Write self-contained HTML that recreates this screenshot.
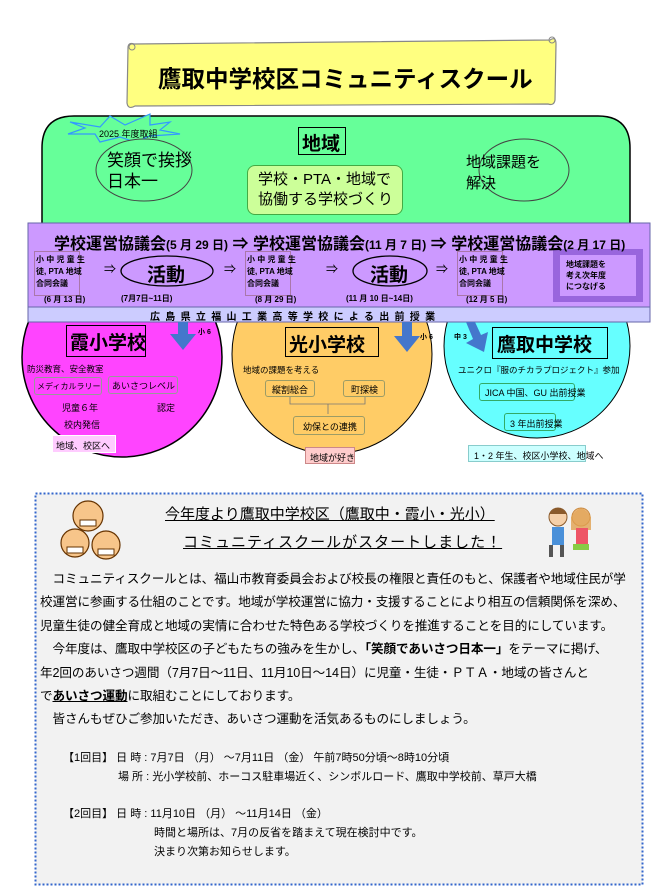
<!DOCTYPE html>
<html><head><meta charset="utf-8"><style>
body{margin:0;width:654px;height:892px;background:#fff;position:relative;overflow:hidden;font-family:"Liberation Sans","Noto Sans CJK JP",sans-serif;color:#000}
.t{position:absolute;white-space:nowrap}
.b{font-weight:bold}
.box{position:absolute;box-sizing:border-box}
</style></head><body>
<svg width="654" height="892" style="position:absolute;left:0;top:0">
 <path d="M128 48 Q128 42 134 44 L550 40 Q556 36 556 44 L555 100 Q554 106 548 104 L135 106 Q128 110 127 103 Z" fill="#ffff80" stroke="#888" stroke-width="1.2"/>
 <circle cx="132" cy="47" r="3" fill="none" stroke="#888"/><circle cx="552" cy="40" r="3" fill="none" stroke="#888"/>
 <path d="M42 225 L42 148 Q42 116 74 116 L598 116 Q630 116 630 148 L630 225 Z" fill="#66ff99" stroke="#000" stroke-width="1.5"/>
 <ellipse cx="122" cy="357" rx="100" ry="100" fill="#ff44ff" stroke="#000" stroke-width="1.5"/>
 <ellipse cx="332" cy="354" rx="100" ry="100" fill="#ffcc66" stroke="#000" stroke-width="1"/>
 <ellipse cx="537" cy="346" rx="93" ry="92" fill="#66ffff" stroke="#000" stroke-width="1"/>
 <polygon points="70,122 100,127 110,116 125,125 150,114 150,125 170,122 160,130 180,134 150,136 135,142 120,137 100,142 95,134 68,134 85,128" fill="#66ff99" stroke="#3399ff" stroke-width="1.2"/>
 <ellipse cx="144" cy="170" rx="48" ry="31" fill="#66ff99" stroke="#444"/>
 <ellipse cx="524" cy="170" rx="45" ry="31" fill="#66ff99" stroke="#444"/>
 <rect x="28" y="223" width="622" height="85" fill="#cc99ff" stroke="#6666aa"/>
 <rect x="28" y="307" width="622" height="15" fill="#ccccff" stroke="#6666aa"/>
 <ellipse cx="167" cy="271" rx="46" ry="15" fill="#cc99ff" stroke="#000" stroke-width="1.3"/>
 <ellipse cx="390" cy="271" rx="37" ry="15" fill="#cc99ff" stroke="#000" stroke-width="1.3"/>
 <rect x="553" y="249" width="90" height="53" fill="#9966dd"/>
 <rect x="560" y="255" width="76" height="41" fill="#cc99ff"/>
 <g fill="#4477cc">
  <path d="M178 322 L188 322 L188 334 L196 334 L183 350 L170 334 L178 334 Z"/>
  <path d="M402 322 L412 322 L412 336 L420 336 L407 352 L394 336 L402 336 Z"/>
  <path d="M466 322 L475 322 L481 335 L488 332 L484 352 L466 343 L473 339 Z"/>
 </g>
 <path d="M290 397 L290 404 L365 404 L365 397 M328 404 L328 414" fill="none" stroke="#777" stroke-width="0.8"/>
 <rect x="35.5" y="493.5" width="607" height="391" fill="#f2f2f2" stroke="#3366cc" stroke-width="2" stroke-dasharray="2,2"/>
 <g stroke="#663300" stroke-width="1.2" fill="#f7c58a">
  <circle cx="88" cy="516" r="15"/><circle cx="75" cy="543" r="14"/><circle cx="106" cy="545" r="14"/>
 </g>
 <g fill="#fff" stroke="#663300"><rect x="80" y="520" width="16" height="6"/><rect x="67" y="547" width="16" height="6"/><rect x="98" y="549" width="16" height="6"/></g>
 <circle cx="558" cy="517" r="9" fill="#f5d0a9" stroke="#8a5a2b"/><path d="M549 514 Q558 502 567 514 Z" fill="#8a5a2b"/>
 <rect x="552" y="527" width="12" height="18" fill="#4a90d9"/><rect x="549" y="545" width="4" height="12" fill="#555"/><rect x="560" y="545" width="4" height="12" fill="#555"/>
 <circle cx="581" cy="517" r="9" fill="#f5d0a9" stroke="#c8873c"/><path d="M571 517 Q581 500 591 517 L591 530 L571 530 Z" fill="#e0a050" opacity=".8"/>
 <rect x="576" y="528" width="12" height="16" fill="#ee5566"/><rect x="573" y="544" width="16" height="6" fill="#88cc44"/>
</svg>

<div class="t b" style="left:158px;top:60px;font-size:23.5px">鷹取中学校区コミュニティスクール</div>

<div class="t" style="left:99px;top:127px;font-size:9px">2025 年度取組</div>
<div class="t" style="left:107px;top:150px;font-size:17px;line-height:21px">笑顔で挨拶<br>日本一</div>
<div class="box" style="left:298px;top:127px;width:48px;height:28px;border:1.5px solid #000"></div>
<div class="t b" style="left:302px;top:129px;font-size:19px">地域</div>
<div class="box" style="left:247px;top:165px;width:156px;height:50px;background:#ccff99;border:1px solid #4a4;border-radius:8px"></div>
<div class="t" style="left:258px;top:170px;font-size:15px;line-height:20px">学校・PTA・地域で<br>協働する学校づくり</div>
<div class="t" style="left:466px;top:152px;font-size:15px;line-height:21px">地域課題を<br>解決</div>

<div class="t b" style="left:54px;top:230px;font-size:16px">学校運営協議会<span style="font-size:12px">(5 月 29 日)</span> ⇒ 学校運営協議会<span style="font-size:12px">(11 月 7 日)</span> ⇒ 学校運営協議会<span style="font-size:12px">(2 月 17 日)</span></div>

<div class="box" style="left:34px;top:251px;width:46px;height:45px;border:1px solid #a7a"></div>
<div class="t b" style="left:36px;top:254px;font-size:8px;line-height:12px">小 中 児 童 生<br>徒, PTA 地域<br>合同会議</div>
<div class="t b" style="left:44px;top:294px;font-size:8px">(6 月 13 日)</div>
<div class="t" style="left:104px;top:260px;font-size:12px">⇒</div>
<div class="t b" style="left:147px;top:260px;font-size:19px">活動</div>
<div class="t b" style="left:121px;top:293px;font-size:8px">(7月7日~11日)</div>
<div class="t" style="left:224px;top:260px;font-size:12px">⇒</div>

<div class="box" style="left:245px;top:251px;width:46px;height:45px;border:1px solid #a7a"></div>
<div class="t b" style="left:247px;top:254px;font-size:8px;line-height:12px">小 中 児 童 生<br>徒, PTA 地域<br>合同会議</div>
<div class="t b" style="left:255px;top:294px;font-size:8px">(8 月 29 日)</div>
<div class="t" style="left:326px;top:260px;font-size:12px">⇒</div>
<div class="t b" style="left:370px;top:260px;font-size:19px">活動</div>
<div class="t b" style="left:346px;top:293px;font-size:8px">(11 月 10 日~14日)</div>
<div class="t" style="left:436px;top:260px;font-size:12px">⇒</div>

<div class="box" style="left:457px;top:251px;width:46px;height:45px;border:1px solid #a7a"></div>
<div class="t b" style="left:459px;top:254px;font-size:8px;line-height:12px">小 中 児 童 生<br>徒, PTA 地域<br>合同会議</div>
<div class="t b" style="left:466px;top:294px;font-size:8px">(12 月 5 日)</div>
<div class="t b" style="left:566px;top:259px;font-size:8px;line-height:11px;text-align:center">地域課題を<br>考え次年度<br>につなげる</div>

<div class="t b" style="left:150px;top:308px;font-size:10px;letter-spacing:5.3px">広島県立福山工業高等学校による出前授業</div>

<div class="box" style="left:66px;top:325px;width:80px;height:32px;border:1.5px solid #000"></div>
<div class="t b" style="left:70px;top:328px;font-size:19px">霞小学校</div>
<div class="t b" style="left:198px;top:327px;font-size:7px">小 6</div>
<div class="t" style="left:27px;top:363px;font-size:8.5px">防災教育、安全教室</div>
<div class="box" style="left:34px;top:377px;width:68px;height:18px;border:1.5px solid #999;border-radius:3px"></div>
<div class="t" style="left:37px;top:381px;font-size:8px">メディカルラリー</div>
<div class="box" style="left:108px;top:376px;width:70px;height:18px;border:1.5px solid #999;border-radius:3px"></div>
<div class="t" style="left:112px;top:379px;font-size:9px">あいさつレベル</div>
<div class="t" style="left:62px;top:401px;font-size:9px">児童６年</div>
<div class="t" style="left:157px;top:401px;font-size:9px">認定</div>
<div class="t" style="left:64px;top:418px;font-size:9px">校内発信</div>
<div class="box" style="left:52px;top:435px;width:64px;height:18px;background:#ffccff;border:1px solid #fff"></div>
<div class="t" style="left:56px;top:439px;font-size:9px">地域、校区へ</div>

<div class="box" style="left:285px;top:327px;width:94px;height:30px;border:1.5px solid #000"></div>
<div class="t b" style="left:289px;top:330px;font-size:19px">光小学校</div>
<div class="t b" style="left:420px;top:332px;font-size:7px">小 6</div>
<div class="t" style="left:243px;top:364px;font-size:8.5px">地域の課題を考える</div>
<div class="box" style="left:265px;top:380px;width:50px;height:17px;border:1.5px solid #9c9c66;border-radius:3px"></div>
<div class="t" style="left:272px;top:383px;font-size:9px">縦割総合</div>
<div class="box" style="left:343px;top:380px;width:42px;height:17px;border:1.5px solid #9c9c66;border-radius:3px"></div>
<div class="t" style="left:351px;top:383px;font-size:9px">町探検</div>
<div class="box" style="left:293px;top:416px;width:72px;height:19px;border:1.5px solid #9c9c66;border-radius:3px"></div>
<div class="t" style="left:303px;top:420px;font-size:9px">幼保との連携</div>
<div class="box" style="left:305px;top:447px;width:50px;height:17px;background:#ffcccc;border:1px solid #c88"></div>
<div class="t" style="left:310px;top:451px;font-size:9px">地域が好き</div>

<div class="box" style="left:492px;top:327px;width:116px;height:32px;border:1.5px solid #000"></div>
<div class="t b" style="left:497px;top:330px;font-size:19px">鷹取中学校</div>
<div class="t b" style="left:454px;top:332px;font-size:7px">中 3</div>
<div class="t" style="left:458px;top:364px;font-size:8.5px">ユニクロ『服のチカラプロジェクト』参加</div>
<div class="box" style="left:479px;top:383px;width:96px;height:18px;border:1.5px solid #3a6;border-radius:3px"></div>
<div class="t" style="left:485px;top:386px;font-size:9px">JICA 中国、GU 出前授業</div>
<div class="box" style="left:504px;top:413px;width:52px;height:18px;border:1.5px solid #3a6;border-radius:3px"></div>
<div class="t" style="left:510px;top:417px;font-size:9px">3 年出前授業</div>
<div class="box" style="left:468px;top:445px;width:118px;height:17px;background:#ccffff;border:1px solid #8cc"></div>
<div class="t" style="left:474px;top:449px;font-size:9px">1・2 年生、校区小学校、地域へ</div>

<div class="t" style="left:165px;top:503px;font-size:15px;text-decoration:underline">今年度より鷹取中学校区（鷹取中・霞小・光小）</div>
<div class="t" style="left:183px;top:531px;font-size:15px;text-decoration:underline;letter-spacing:1px">コミュニティスクールがスタートしました！</div>
<div class="t" style="left:40px;top:568px;font-size:12.6px;line-height:23.4px;letter-spacing:-0.1px">　コミュニティスクールとは、福山市教育委員会および校長の権限と責任のもと、保護者や地域住民が学<br>校運営に参画する仕組のことです。地域が学校運営に協力・支援することにより相互の信頼関係を深め、<br>児童生徒の健全育成と地域の実情に合わせた特色ある学校づくりを推進することを目的にしています。<br>　今年度は、鷹取中学校区の子どもたちの強みを生かし、<b>「笑顔であいさつ日本一」</b>をテーマに掲げ、<br>年2回のあいさつ週間（7月7日～11日、11月10日～14日）に児童・生徒・ＰＴＡ・地域の皆さんと<br>で<b style="text-decoration:underline">あいさつ運動</b>に取組むことにしております。<br>　皆さんもぜひご参加いただき、あいさつ運動を活気あるものにしましょう。</div>
<div class="t" style="left:63px;top:749px;font-size:11px;line-height:19px">【1回目】 日 時 : 7月7日 （月） ～7月11日 （金） 午前7時50分頃～8時10分頃<br>　　　　　場 所 : 光小学校前、ホーコス駐車場近く、シンボルロード、鷹取中学校前、草戸大橋</div>
<div class="t" style="left:63px;top:805px;font-size:11px;line-height:19px">【2回目】 日 時 : 11月10日 （月） ～11月14日 （金）<br>　　　　　　　　 時間と場所は、7月の反省を踏まえて現在検討中です。<br>　　　　　　　　 決まり次第お知らせします。</div>
</body></html>
